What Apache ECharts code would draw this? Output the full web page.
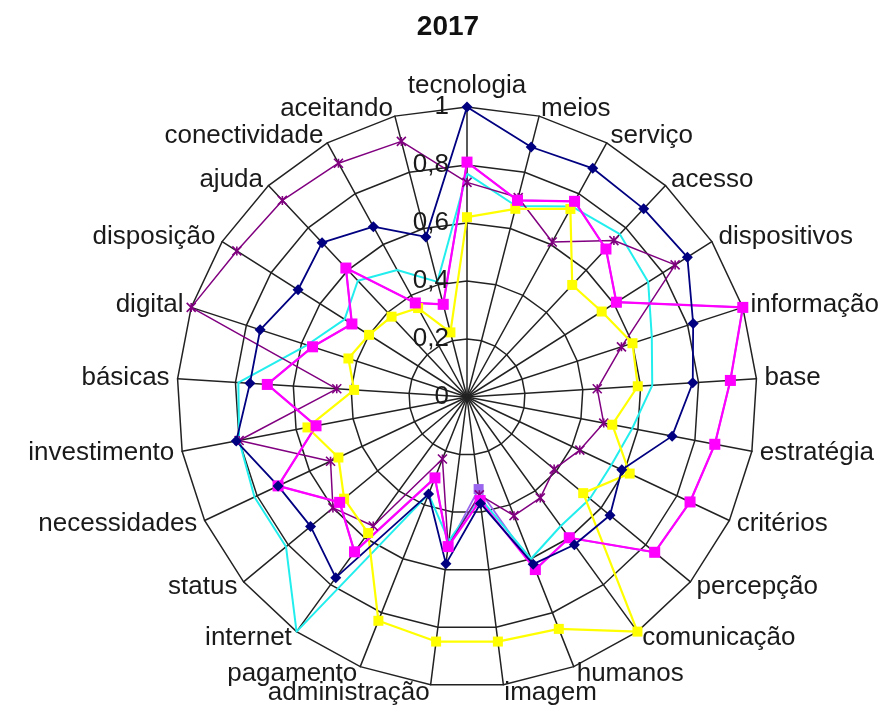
<!DOCTYPE html>
<html><head><meta charset="utf-8">
<script src="https://cdn.jsdelivr.net/npm/echarts@6/dist/echarts.min.js"></script>
<style>html,body{margin:0;padding:0;background:#fff}#c{width:896px;height:707px}</style>
</head><body><div id="c"></div>
<script>
// categories, clockwise from the top
const categories = ['tecnologia','meios','serviço','acesso','dispositivos','informação','base','estratégia','critérios','percepção','comunicação','humanos','imagem','administração','pagamento','internet','status','necessidades','investimento','básicas','digital','disposição','ajuda','conectividade','aceitando'];
const navyValues    = [1.00,0.89,0.90,0.89,0.90,0.82,0.78,0.72,0.59,0.64,0.63,0.62,0.37,0.58,0.36,0.77,0.70,0.72,0.81,0.75,0.75,0.69,0.73,0.67,0.57];
const magentaValues = [0.81,0.70,0.77,0.70,0.61,1.00,0.91,0.87,0.85,0.84,0.60,0.64,0.36,0.52,0.30,0.66,0.57,0.72,0.53,0.69,0.56,0.47,0.61,0.37,0.33];
const yellowValues  = [0.62,0.67,0.74,0.53,0.55,0.60,0.59,0.51,0.62,0.52,1.00,0.86,0.85,0.85,0.83,0.58,0.55,0.49,0.56,0.39,0.43,0.40,0.38,0.35,0.23];
const purpleValues  = [0.74,0.71,0.61,0.74,0.85,0.56,0.45,0.48,0.43,0.39,0.43,0.44,0.34,0.52,0.23,0.55,0.60,0.52,0.80,0.45,1.00,0.94,0.93,0.92,0.91];
const cyanValues    = [0.77,0.68,0.75,0.77,0.74,0.67,0.64,0.58,0.55,0.55,0.55,0.60,0.35,0.50,0.36,1.00,0.81,0.81,0.80,0.79,0.58,0.50,0.55,0.50,0.41];
const lilacValues   = [0.81,0.70,0.77,0.70,0.61,1.00,0.91,0.87,0.85,0.84,0.60,0.64,0.32,0.52,0.30,0.66,0.57,0.72,0.53,0.69,0.56,0.47,0.61,0.37,0.33];
const tickLabels = ['0','0,2','0,4','0,6','0,8','1'];
const titleText = '2017';

// ECharts radar lays indicators out counter-clockwise: reverse all but the first
const ccw = a => [a[0]].concat(a.slice(1).reverse());

const CX = 467, CY = 397, R = 290;
const crossPath = 'path://M0,0L10,10M10,0L0,10M5,0L5,10';

function mk(name, vals, color, symbol, size, width) {
  return {
    type: 'radar', name: name, silent: true,
    symbol: symbol, symbolSize: size,
    lineStyle: {color: color, width: width},
    itemStyle: {color: color, borderColor: color, borderWidth: symbol === crossPath ? 1.6 : 0},
    data: [{value: ccw(vals)}]
  };
}

const chart = echarts.init(document.getElementById('c'), null, {renderer: 'canvas'});
chart.setOption({
  animation: false,
  backgroundColor: '#fff',
  title: {text: titleText, left: 'center', top: 8,
    textStyle: {fontFamily: 'Liberation Sans, Arial', fontSize: 28, fontWeight: 'bold', color: '#111'}},
  radar: {
    center: [CX, CY], radius: R, startAngle: 90, shape: 'polygon', splitNumber: 5,
    indicator: ccw(categories).map(n => ({name: n, min: 0, max: 1})),
    axisName: {color: '#1a1a1a', fontSize: 26, fontFamily: 'Liberation Sans, Arial'},
    nameGap: 8,
    splitLine: {lineStyle: {color: '#222', width: 1.5}},
    splitArea: {show: false},
    axisLine: {lineStyle: {color: '#222', width: 1.5}},
    axisTick: {show: false},
    axisLabel: {show: false}
  },
  polar: {center: [CX, CY], radius: R},
  angleAxis: {type: 'value', min: 0, max: 360, show: false, startAngle: 90},
  radiusAxis: {
    type: 'value', min: 0, max: 1, interval: 0.2, z: 20,
    axisLine: {show: false}, axisTick: {show: false}, splitLine: {show: false},
    axisLabel: {
      show: true, fontSize: 26, fontFamily: 'Liberation Sans, Arial', color: '#1a1a1a', margin: 18,
      formatter: (v) => tickLabels[Math.round(v / 0.2)]
    }
  },
  series: [
    mk('lilac', lilacValues, '#9a66ee', 'rect', 10, 1.8),
    mk('cyan', cyanValues, '#22eeee', 'none', 0, 2),
    mk('purple', purpleValues, '#800080', crossPath, 9, 1.5),
    mk('yellow', yellowValues, '#ffff00', 'rect', 10, 2.2),
    mk('magenta', magentaValues, '#ff00ff', 'rect', 11, 2.2),
    mk('navy', navyValues, '#000080', 'diamond', 11, 1.8)
  ]
});
</script></body></html>
